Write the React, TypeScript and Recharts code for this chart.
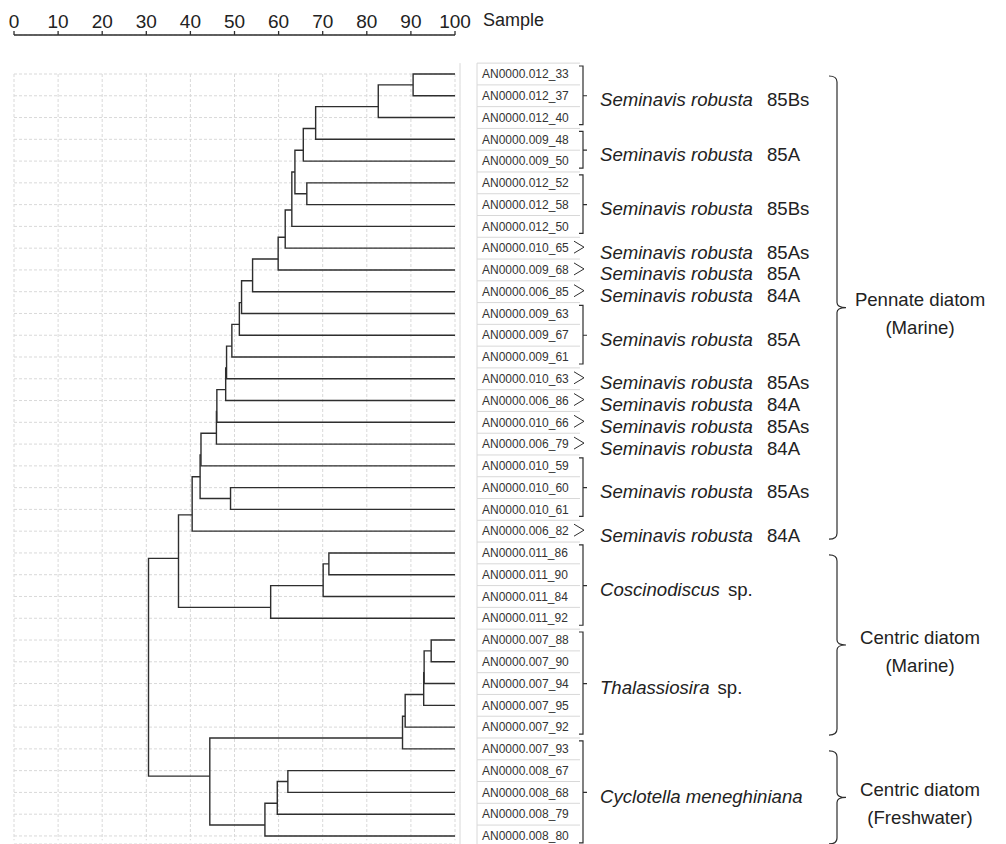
import { ScatterChart, Scatter, XAxis, YAxis, CartesianGrid, ReferenceLine, Label } from 'recharts';

const samples = [
  'AN0000.012_33', 'AN0000.012_37', 'AN0000.012_40', 'AN0000.009_48', 'AN0000.009_50',
  'AN0000.012_52', 'AN0000.012_58', 'AN0000.012_50', 'AN0000.010_65', 'AN0000.009_68',
  'AN0000.006_85', 'AN0000.009_63', 'AN0000.009_67', 'AN0000.009_61', 'AN0000.010_63',
  'AN0000.006_86', 'AN0000.010_66', 'AN0000.006_79', 'AN0000.010_59', 'AN0000.010_60',
  'AN0000.010_61', 'AN0000.006_82', 'AN0000.011_86', 'AN0000.011_90', 'AN0000.011_84',
  'AN0000.011_92', 'AN0000.007_88', 'AN0000.007_90', 'AN0000.007_94', 'AN0000.007_95',
  'AN0000.007_92', 'AN0000.007_93', 'AN0000.008_67', 'AN0000.008_68', 'AN0000.008_79',
  'AN0000.008_80',
];

// [upper child, lower child, similarity]; ids from samples.length up are earlier merges
const merges: [number, number, number][] = [
  [0, 1, 90.5], [36, 2, 82.6], [37, 3, 68.4], [38, 4, 65.6], [5, 6, 66.4],
  [39, 40, 63.7], [41, 7, 63.0], [42, 8, 61.5], [43, 9, 59.9], [44, 10, 54.1],
  [45, 11, 51.6], [46, 12, 51.1], [47, 13, 49.4], [48, 14, 48.2], [49, 15, 48.0],
  [50, 16, 46.0], [51, 17, 45.9], [52, 18, 42.4], [19, 20, 49.1], [53, 54, 42.2],
  [55, 21, 40.4], [22, 23, 71.4], [57, 24, 70.1], [58, 25, 58.2], [56, 59, 37.3],
  [26, 27, 94.6], [61, 28, 93.0], [62, 29, 92.9], [63, 30, 88.7], [64, 31, 88.1],
  [32, 33, 62.1], [66, 34, 59.7], [67, 35, 56.9], [65, 68, 44.4], [60, 69, 30.5],
];

const scaleTicks = [0, 10, 20, 30, 40, 50, 60, 70, 80, 90, 100];

const speciesRanges: [number, number][] = [
  [0, 2], [3, 4], [5, 7], [8, 8], [9, 9], [10, 10], [11, 13], [14, 14],
  [15, 15], [16, 16], [17, 17], [18, 20], [21, 21], [22, 25], [26, 30], [31, 35],
];
const speciesTaxa = [
  'Seminavis robusta', 'Seminavis robusta', 'Seminavis robusta', 'Seminavis robusta',
  'Seminavis robusta', 'Seminavis robusta', 'Seminavis robusta', 'Seminavis robusta',
  'Seminavis robusta', 'Seminavis robusta', 'Seminavis robusta', 'Seminavis robusta',
  'Seminavis robusta', 'Coscinodiscus', 'Thalassiosira', 'Cyclotella meneghiniana',
];
const speciesStrains = [
  '85Bs', '85A', '85Bs', '85As', '85A', '84A', '85A', '85As',
  '84A', '85As', '84A', '85As', '84A', 'sp.', 'sp.', '',
];

const cladeRanges: [number, number][] = [[0, 21], [22, 30], [31, 35]];
const cladeNames = [
  ['Pennate diatom', '(Marine)'],
  ['Centric diatom', '(Marine)'],
  ['Centric diatom', '(Freshwater)'],
];

// layout
const W = 1006;
const H = 844;
const ROW = 21.77;
const PLOT_TOP = 35;
const FIRST_ROW_PX = 74;
const Y_MIN = -(FIRST_ROW_PX - PLOT_TOP) / ROW;
const Y_MAX = Y_MIN + (H - PLOT_TOP) / ROW;
const INK = '#2e2e2e';
const CELL = '#d8d8d8';
const LABEL_FONT = 18.6;

type Node = { h: number; y: number; top: number; bottom: number };
const nodes: Node[] = samples.map((_, i) => ({ h: 100, y: i, top: i, bottom: i }));
const branches = merges.map(([a, b, h]) => {
  const A = nodes[a];
  const B = nodes[b];
  nodes.push({ h, y: (A.bottom + B.top) / 2, top: A.y, bottom: B.y });
  return [
    { x: A.h, y: A.y },
    { x: h, y: A.y },
    { x: h, y: B.y },
    { x: B.h, y: B.y },
  ];
});

const rowTicks = samples.map((_, i) => i);

const NoMarker = () => <g />;

const RowTick = (props: any) => {
  const { x, y, payload } = props;
  const i: number = payload.value;
  const x0 = x;
  const half = ROW / 2;
  const parts: any[] = [];

  parts.push(<line key="ax" x1={x0 + 5} x2={x0 + 5} y1={y - half} y2={y + half} stroke={CELL} />);
  parts.push(<line key="cl" x1={x0 + 22} x2={x0 + 22} y1={y - half} y2={y + half} stroke={CELL} />);
  parts.push(<line key="cb" x1={x0 + 22} x2={x0 + 125} y1={y + half} y2={y + half} stroke={CELL} />);
  if (i === 0) {
    parts.push(<line key="ct" x1={x0 + 22} x2={x0 + 125} y1={y - half} y2={y - half} stroke={CELL} />);
  }
  parts.push(
    <text key="s" x={x0 + 27} y={y} dy="0.35em" fontSize={12} fill="#333">
      {samples[i]}
    </text>
  );

  const g = speciesRanges.findIndex(([f]) => f === i);
  if (g >= 0) {
    const [f, l] = speciesRanges[g];
    const yTop = y;
    const yBot = y + (l - f) * ROW;
    const mid = (yTop + yBot) / 2;
    if (f === l) {
      parts.push(
        <path key="chev" d={`M${x0 + 119},${y - 7} L${x0 + 129},${y - 1} L${x0 + 119},${y + 5}`}
          fill="none" stroke={INK} strokeWidth={1} />
      );
    } else {
      const bx = x0 + 128;
      parts.push(
        <path key="br" d={`M${bx - 4},${yTop - 8} L${bx},${yTop - 8} L${bx},${yBot + 7} L${bx - 4},${yBot + 7} M${bx},${mid} L${bx + 4},${mid}`}
          fill="none" stroke={INK} strokeWidth={1.2} />
      );
    }
    const strain = speciesStrains[g];
    parts.push(
      <text key="sp" x={x0 + 145} y={mid + 4} dy="0.35em" fontSize={LABEL_FONT} fill="#222">
        <tspan fontStyle="italic">{speciesTaxa[g]}</tspan>
        {strain ? <tspan dx={strain === 'sp.' ? 8 : 14}>{strain}</tspan> : null}
      </text>
    );
  }

  const c = cladeRanges.findIndex(([f]) => f === i);
  if (c >= 0) {
    const [f, l] = cladeRanges[c];
    const top = y + 2;
    const bot = y + (l - f) * ROW + 8;
    const mid = (top + bot) / 2;
    const xa = x0 + 374;
    const xb = x0 + 382;
    const xc = x0 + 391;
    parts.push(
      <path key="cbr"
        d={`M${xa},${top} Q${xb},${top} ${xb},${top + 6} L${xb},${mid - 5} Q${xb},${mid} ${xc},${mid} Q${xb},${mid} ${xb},${mid + 5} L${xb},${bot - 6} Q${xb},${bot} ${xa},${bot}`}
        fill="none" stroke={INK} strokeWidth={1.2} />
    );
    parts.push(
      <text key="cn" x={x0 + 465} textAnchor="middle" fontSize={LABEL_FONT} fill="#222">
        <tspan x={x0 + 465} y={mid - 8} dy="0.35em">{cladeNames[c][0]}</tspan>
        <tspan x={x0 + 465} y={mid + 20} dy="0.35em">{cladeNames[c][1]}</tspan>
      </text>
    );
  }

  return <g>{parts}</g>;
};

export default function App() {
  return (
    <div style={{ position: 'absolute', left: 0, top: 0, fontFamily: '"Liberation Sans", Arial, Helvetica, sans-serif' }}>
      <ScatterChart width={W} height={H} margin={{ top: PLOT_TOP - 30, right: 0, bottom: 0, left: 14 }}>
        <CartesianGrid vertical={false} stroke="#d9d9d9" strokeDasharray="3 2" />
        <XAxis
          type="number"
          dataKey="x"
          orientation="top"
          domain={[0, 100]}
          ticks={scaleTicks}
          interval={0}
          height={30}
          tickSize={4}
          tickMargin={3}
          stroke={INK}
          strokeWidth={1.3}
          tick={{ fill: '#222', fontSize: 19 }}
          allowDataOverflow
        >
          <Label value="Sample" position="right" offset={28} fontSize={18} fill="#222" />
        </XAxis>
        <YAxis
          type="number"
          dataKey="y"
          orientation="right"
          domain={[Y_MIN, Y_MAX]}
          reversed
          ticks={rowTicks}
          interval={0}
          width={W - 14 - 441}
          axisLine={false}
          tickLine={false}
          tickSize={0}
          tickMargin={0}
          tick={<RowTick />}
          allowDataOverflow
        />
        {scaleTicks.map((t) => (
          <ReferenceLine
            key={`v${t}`}
            segment={[{ x: t, y: 0 }, { x: t, y: samples.length - 1 + 0.2 }]}
            stroke="#d9d9d9"
            strokeDasharray="3 2"
            ifOverflow="visible"
          />
        ))}
        {branches.map((pts, k) => (
          <Scatter
            key={k}
            data={pts}
            line={{ stroke: INK, strokeWidth: 1.4 }}
            lineType="joint"
            shape={<NoMarker />}
            legendType="none"
            isAnimationActive={false}
          />
        ))}
      </ScatterChart>
    </div>
  );
}
